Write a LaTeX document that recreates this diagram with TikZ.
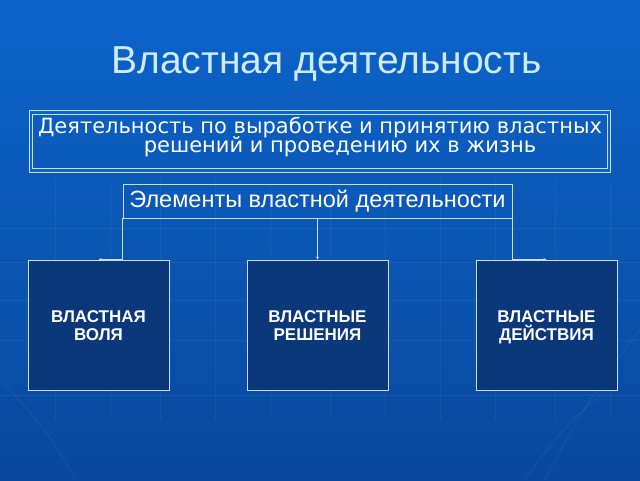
\documentclass[tikz,border=0pt]{standalone}
\usepackage{fontspec}
\setmainfont{Liberation Sans}
\newfontfamily\dvs{DejaVu Sans}
\usetikzlibrary{arrows.meta,calc}
\newcommand\nolskip{\lineskiplimit=-100pt\relax}
\newcommand\topstrut{\rule{0pt}{19pt}}
\definecolor{bgtop}{RGB}{12,100,202}
\definecolor{bgbot}{RGB}{10,72,158}
\definecolor{titlec}{RGB}{205,235,251}
\definecolor{navy}{RGB}{10,56,122}
\definecolor{edgec}{RGB}{200,222,245}
\tikzset{
  gridln/.style={white,opacity=0.055,line width=1pt},
  elbox/.style={draw=edgec,line width=0.8pt,minimum width=389pt,minimum height=34pt,inner sep=0pt,text=white,font=\fontsize{23.5}{26}\selectfont},
  leaf/.style={draw=edgec,fill=navy,line width=0.8pt,minimum width=141pt,minimum height=130pt,inner sep=0pt,text=white,align=center,font={\bfseries\fontsize{17}{18.5}\selectfont\nolskip}},
  conn/.style={edgec,line width=0.8pt,-{Stealth[length=3pt,width=3pt]}},
}
\begin{document}
\begin{tikzpicture}[x=1pt,y=-1pt]
\useasboundingbox (0,0) rectangle (640,480);
\shade[top color=bgtop,bottom color=bgbot] (0,0) rectangle (640,480);
% faint background grid
\foreach \gx in {55,110,160,215,270,330,385,440,495,555,610}
  \draw[gridln] (\gx,180) -- (\gx,420);
\foreach \gy in {228,262,300,340,395}
  \draw[gridln] (0,\gy) -- (640,\gy);
\draw[gridln] (0,380) .. controls (40,420) and (60,450) .. (75,480);
\draw[gridln] (640,330) .. controls (600,380) and (570,430) .. (545,480);
\draw[gridln] (600,395) .. controls (570,420) and (545,450) .. (525,480);
% title
\node[text=titlec,font=\fontsize{39}{42}\selectfont] (title) at (326.5,64) {Властная деятельность};
% main definition box (double frame)
\node[draw=edgec,line width=1.2pt,double=bgtop,double distance=2.4pt,minimum width=578pt,minimum height=58pt,inner sep=0pt,text=white,align=center,font={\dvs\fontsize{21}{19}\selectfont\nolskip}] (def) at (320,141.5)
  {Деятельность по выработке и принятию властных\\\hspace*{40pt}решений и проведению их в жизнь\rule[-14pt]{0pt}{1pt}};
% elements box
\node[elbox] (el) at (317.5,201) {Элементы властной деятельности};
% leaf boxes
\node[leaf] (v1) at (98.5,325) {\topstrut ВЛАСТНАЯ\\\strut ВОЛЯ};
\node[leaf] (v2) at (317.5,325) {\topstrut ВЛАСТНЫЕ\\\strut РЕШЕНИЯ};
\node[leaf] (v3) at (546.5,325) {\topstrut ВЛАСТНЫЕ\\\strut ДЕЙСТВИЯ};
% connectors
\draw[conn] (el.south west) |- (v1.north);
\draw[conn] (el.south) -- (v2.north);
\draw[conn] (el.south east) |- (v3.north);
\end{tikzpicture}
\end{document}
